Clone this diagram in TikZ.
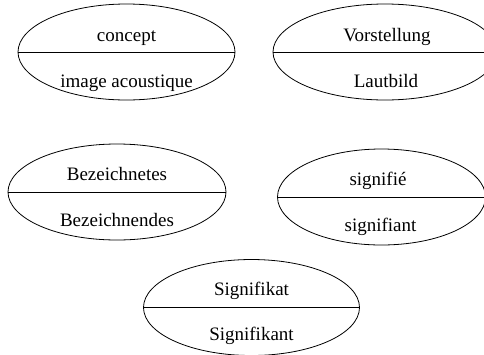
\documentclass[tikz,border=0pt]{standalone}
\usepackage{fontspec}
\setmainfont{Liberation Serif}
\usetikzlibrary{shapes.geometric}
\begin{document}
\begin{tikzpicture}[x=1pt,y=-1pt,
  oval/.style={draw, ellipse, line width=0.8pt, inner sep=0pt, minimum height=96pt},
  lbl/.style={anchor=base, inner sep=0pt, font=\fontsize{19}{22}\selectfont}]
\useasboundingbox (0,0) rectangle (484,354);
\clip (0,0) rectangle (484,354);
% ellipse 1
\node[oval, minimum width=217pt] (e1) at (126.5,52) {};
\draw[line width=0.8pt] (e1.west) -- (e1.east);
\node[lbl] (t1a) at (126.5,41) {concept};
\node[lbl] (t1b) at (126.5,87) {image acoustique};
% ellipse 2
\node[oval, minimum width=224pt] (e2) at (385,52) {};
\draw[line width=0.8pt] (e2.west) -- (e2.east);
\node[lbl] (t2a) at (387,41) {Vorstellung};
\node[lbl] (t2b) at (386,87) {Lautbild};
% ellipse 3
\node[oval, minimum width=218pt] (e3) at (117,192) {};
\draw[line width=0.8pt] (e3.west) -- (e3.east);
\node[lbl] (t3a) at (117,180.5) {Bezeichnetes};
\node[lbl] (t3b) at (117,226) {Bezeichnendes};
% ellipse 4
\node[oval, minimum width=208pt] (e4) at (381.5,197) {};
\draw[line width=0.8pt] (e4.west) -- (e4.east);
\node[lbl] (t4a) at (378,185.5) {signifié};
\node[lbl] (t4b) at (380.5,231) {signifiant};
% ellipse 5
\node[oval, minimum width=216pt] (e5) at (251.5,307.5) {};
\draw[line width=0.8pt] (e5.west) -- (e5.east);
\node[lbl] (t5a) at (251.5,295.5) {Signifikat};
\node[lbl] (t5b) at (251.5,340.5) {Signifikant};
\end{tikzpicture}
\end{document}
